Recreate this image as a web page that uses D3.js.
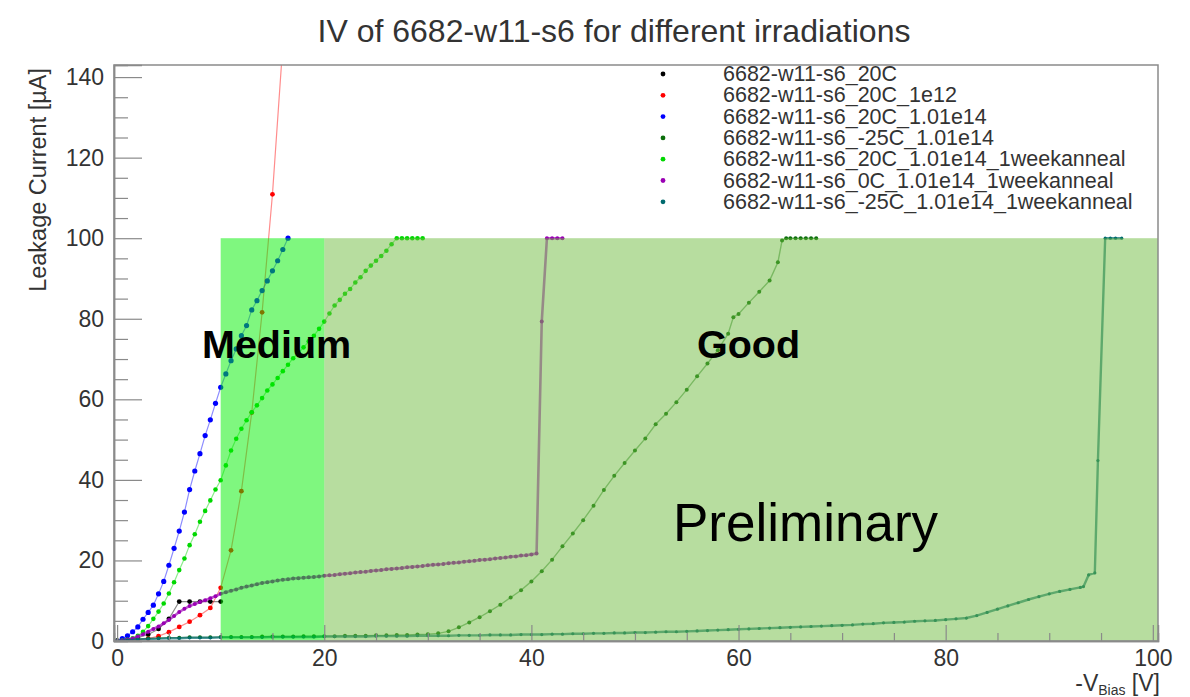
<!DOCTYPE html>
<html>
<head>
<meta charset="utf-8">
<script src="https://cdn.jsdelivr.net/npm/d3@7"></script>
<style>
  body { margin: 0; background: #fff; }
  text { font-family: "Liberation Sans", Arial, Helvetica, sans-serif; }
</style>
</head>
<body>
<svg id="chart" width="1190" height="697"></svg>
<script>
// ---- measurement series: bias voltage [V] and leakage current [uA] ----
const seriesNames = [
  "6682-w11-s6_20C",
  "6682-w11-s6_20C_1e12",
  "6682-w11-s6_20C_1.01e14",
  "6682-w11-s6_-25C_1.01e14",
  "6682-w11-s6_20C_1.01e14_1weekanneal",
  "6682-w11-s6_0C_1.01e14_1weekanneal",
  "6682-w11-s6_-25C_1.01e14_1weekanneal"
];

const v20C = [0,1,2,3,4,5,6,7,8,9,10];
const i20C = [0,0.3,0.8,1.6,3.0,5.5,9.8,9.8,9.8,9.8,9.8];

const v20C_1e12 = [0,1,2,3,4,5,6,7,8,9,10,11,12,13,14,15,16];
const i20C_1e12 = [0,0.1,0.3,0.6,1.2,2.2,3.5,4.8,6.4,8.2,13.2,22.5,37.2,56.7,81.6,110.9,148];

const v20C_101e14 = [0,0.5,1,1.5,2,2.5,3,3.5,4,4.5,5,5.5,6,6.5,7,7.5,8,8.5,9,9.5,10,10.5,11,11.5,12,12.5,13,13.5,14,14.5,15,15.5,16,16.5];
const i20C_101e14 = [0,0.6,1.3,2.3,3.5,5.4,7.1,8.9,11.7,14.8,18.8,23.0,27.3,32.0,37.6,42.2,46.5,51.0,54.9,59.0,63.0,66.3,69.6,72.5,75.8,78.3,82.2,84.5,87.0,89.4,91.9,94.4,97.2,100];

const vM25C_101e14 = [0,1,2,3,4,5,6,7,8,9,10,11,12,13,14,15,16,17,18,19,20,21,22,23,24,25,26,27,28,29,30,31,32,33,34,35,36,37,38,39,40,41,42,43,44,45,46,47,48,49,50,51,52,53,54,55,56,57,58,59,59.5,60,61,62,63,63.8,64.2,64.6,65,65.5,66,66.5,67,67.5];
const iM25C_101e14 = [0.2,0.4,0.5,0.6,0.7,0.8,0.8,0.9,0.9,0.9,1.0,1.0,1.0,1.0,1.1,1.1,1.1,1.1,1.2,1.2,1.2,1.2,1.3,1.3,1.3,1.4,1.4,1.5,1.5,1.6,1.7,1.9,2.4,3.4,4.6,5.9,7.4,9.0,10.8,12.6,14.8,17.3,20.2,23.5,26.7,30.0,33.6,37.5,41.0,44.2,47.3,50.3,53.8,56.4,59.3,62.4,65.7,68.9,72.2,76.3,80.4,81.2,84.0,86.7,89.5,94.0,99.4,100,100,100,100,100,100,100];

const v20C_anneal = [0,0.5,1,1.5,2,2.5,3,3.5,4,4.5,5,5.5,6,6.5,7,7.5,8,8.5,9,9.5,10,10.5,11,11.5,12,12.5,13,13.5,14,14.5,15,15.5,16,16.5,17,17.5,18,18.5,19,19.5,20,20.5,21,21.5,22,22.5,23,23.5,24,24.5,25,25.5,26,26.5,27,27.5,28,28.5,29,29.5];
const i20C_anneal = [0,0.1,0.3,0.7,1.3,2.3,3.7,5.5,7.3,9.3,11.8,14.6,17.6,20.5,23.8,26.5,29.6,32.3,34.9,37.6,39.9,43.6,47.3,50.2,52.7,54.8,56.8,58.5,60.3,62.2,63.7,65.3,67.0,68.6,70.2,71.5,72.9,74.4,75.8,77.5,79.3,81.3,83.3,84.7,86.2,87.4,89.0,90.3,91.9,93.2,94.4,95.6,96.9,98.5,100,100,100,100,100,100];

const v0C_anneal = [0,0.5,1,1.5,2,2.5,3,3.5,4,4.5,5,5.5,6,6.5,7,7.5,8,8.5,9,9.5,10,10.5,11,11.5,12,12.5,13,13.5,14,14.5,15,15.5,16,16.5,17,17.5,18,18.5,19,19.5,20,20.5,21,21.5,22,22.5,23,23.5,24,24.5,25,25.5,26,26.5,27,27.5,28,28.5,29,29.5,30,30.5,31,31.5,32,32.5,33,33.5,34,34.5,35,35.5,36,36.5,37,37.5,38,38.5,39,39.5,40,40.5,41,41.5,42,42.5,43];
const i0C_anneal = [0,0.1,0.3,0.6,1.1,1.7,2.3,3.0,3.6,4.4,5.2,6.2,7.2,8.0,8.7,9.2,9.7,10.1,10.6,11.1,11.7,12.1,12.5,12.8,13.2,13.5,13.8,14.1,14.4,14.6,14.8,15.0,15.2,15.3,15.5,15.6,15.7,15.8,15.9,16.0,16.2,16.3,16.4,16.6,16.7,16.8,17.0,17.1,17.2,17.4,17.5,17.6,17.8,17.9,18.0,18.1,18.3,18.4,18.5,18.6,18.8,18.9,19.0,19.1,19.3,19.4,19.5,19.7,19.8,19.9,20.1,20.2,20.3,20.5,20.6,20.7,20.9,21.0,21.2,21.3,21.5,21.7,79.3,100,100,100,100];

const vM25C_anneal = [0,1,2,3,4,5,6,7,8,9,10,11,12,13,14,15,16,17,18,19,20,21,22,23,24,25,26,27,28,29,30,31,32,33,34,35,36,37,38,39,40,41,42,43,44,45,46,47,48,49,50,51,52,53,54,55,56,57,58,59,60,61,62,63,64,65,66,67,68,69,70,71,72,73,74,75,76,77,78,79,80,81,82,83,84,85,86,87,88,89,90,91,92,93,93.3,93.8,94.4,94.7,95.4,95.9,96.4,97];
const iM25C_anneal = [0,0.2,0.4,0.5,0.6,0.7,0.7,0.8,0.8,0.8,0.9,0.9,0.9,0.9,0.9,1.0,1.0,1.0,1.0,1.0,1.1,1.1,1.1,1.1,1.1,1.2,1.2,1.2,1.2,1.3,1.3,1.3,1.3,1.4,1.4,1.4,1.5,1.5,1.5,1.6,1.6,1.6,1.7,1.7,1.8,1.8,1.9,1.9,2.0,2.0,2.1,2.1,2.2,2.3,2.3,2.4,2.5,2.6,2.7,2.8,2.9,3.0,3.1,3.2,3.3,3.4,3.5,3.6,3.7,3.8,3.9,4.0,4.2,4.3,4.5,4.6,4.7,4.9,5.0,5.1,5.3,5.5,5.7,6.3,7.1,7.9,8.7,9.5,10.3,11.0,11.7,12.3,12.8,13.3,13.5,16.4,16.9,44.8,100,100,100,100];

// quality bands (voltage ranges) and their current ceiling
const mediumBand = [10, 20];
const goodBand = [20, 100.5];
const bandCeiling = 100;

// axis ticks
const xMajorTicks = [0, 20, 40, 60, 80, 100];
const yMajorTicks = [0, 20, 40, 60, 80, 100, 120, 140];

// ---- drawing ----
const frame = { left: 114, right: 1158, top: 65, bottom: 641 };

const svg = d3.select("#chart");
const x = d3.scaleLinear().domain([-0.3, 100.5]).range([frame.left, frame.right]);
const y = d3.scaleLinear().domain([0, 143]).range([frame.bottom, frame.top]);

const colors = ["#000000", "#ff0000", "#0000ff", "#0b6e0b", "#00d800", "#9a00b4", "#006a6e"];
const radius = [2.4, 2.4, 2.6, 2.0, 2.3, 2.0, 1.6];
const lineWidth = [1.2, 1.2, 1.2, 1.4, 1.2, 2.6, 2.4];
const lineOpacity = [0.45, 0.45, 0.45, 0.5, 0.45, 0.65, 0.7];

const series = [
  [v20C, i20C], [v20C_1e12, i20C_1e12], [v20C_101e14, i20C_101e14],
  [vM25C_101e14, iM25C_101e14], [v20C_anneal, i20C_anneal],
  [v0C_anneal, i0C_anneal], [vM25C_anneal, iM25C_anneal]
].map(([vs, is], k) => ({
  name: seriesNames[k],
  color: colors[k],
  r: radius[k],
  lw: lineWidth[k],
  lo: lineOpacity[k],
  points: vs.map((v, j) => ({ v, i: is[j] }))
}));

svg.append("defs").append("clipPath").attr("id", "plotClip")
  .append("rect")
  .attr("x", frame.left).attr("y", frame.top)
  .attr("width", frame.right - frame.left).attr("height", frame.bottom - frame.top);

// title
svg.append("text")
  .attr("x", 614).attr("y", 42)
  .attr("text-anchor", "middle")
  .attr("font-size", 32)
  .attr("fill", "#333")
  .text("IV of 6682-w11-s6 for different irradiations");

// curves
const plot = svg.append("g").attr("clip-path", "url(#plotClip)");
const line = d3.line().x(d => x(d.v)).y(d => y(d.i));

series.forEach(s => {
  const g = plot.append("g");
  g.append("path")
    .attr("d", line(s.points))
    .attr("fill", "none")
    .attr("stroke", s.color)
    .attr("stroke-opacity", s.lo)
    .attr("stroke-width", s.lw);
  g.selectAll("circle").data(s.points).join("circle")
    .attr("cx", d => x(d.v))
    .attr("cy", d => y(d.i))
    .attr("r", s.r)
    .attr("fill", s.color);
});

// translucent quality bands drawn over the curves
plot.append("rect")
  .attr("x", x(goodBand[0])).attr("y", y(bandCeiling))
  .attr("width", x(goodBand[1]) - x(goodBand[0]))
  .attr("height", y(0) - y(bandCeiling))
  .attr("fill", "rgb(112,188,64)").attr("fill-opacity", 0.5);
plot.append("rect")
  .attr("x", x(mediumBand[0])).attr("y", y(bandCeiling))
  .attr("width", x(mediumBand[1]) - x(mediumBand[0]))
  .attr("height", y(0) - y(bandCeiling))
  .attr("fill", "rgb(0,240,0)").attr("fill-opacity", 0.5);

// band labels
svg.append("text").attr("x", 202).attr("y", 358)
  .attr("font-size", 39.5).attr("font-weight", "bold").attr("fill", "#000")
  .text("Medium");
svg.append("text").attr("x", 697).attr("y", 358)
  .attr("font-size", 39.5).attr("font-weight", "bold").attr("fill", "#000")
  .text("Good");
svg.append("text").attr("x", 673).attr("y", 541)
  .attr("font-size", 53).attr("fill", "#000")
  .text("Preliminary");

// frame
svg.append("rect")
  .attr("x", frame.left).attr("y", frame.top)
  .attr("width", frame.right - frame.left).attr("height", frame.bottom - frame.top)
  .attr("fill", "none").attr("stroke", "#8a8a8a").attr("stroke-width", 1.5);

// axes: ticks point into the frame
const xMinor = d3.range(0, 101, 5).filter(v => v % 20 !== 0);
const yMinor = d3.range(0, 143, 5).filter(v => v % 20 !== 0);

svg.append("g").attr("transform", `translate(0,${frame.bottom})`)
  .call(d3.axisBottom(x).tickValues(xMajorTicks).tickSize(-16).tickPadding(9).tickFormat(d3.format("d")));
svg.append("g").attr("transform", `translate(0,${frame.bottom})`)
  .call(d3.axisBottom(x).tickValues(xMinor).tickSize(-8).tickFormat(""));

svg.append("g").attr("transform", `translate(${frame.left},0)`)
  .call(d3.axisLeft(y).tickValues(yMajorTicks).tickSize(-28).tickPadding(10).tickFormat(d3.format("d")));
svg.append("g").attr("transform", `translate(${frame.left},0)`)
  .call(d3.axisLeft(y).tickValues(yMinor).tickSize(-14).tickFormat(""));

svg.selectAll(".domain").attr("stroke", "#8a8a8a").attr("stroke-width", 1.5);
svg.selectAll(".tick line").attr("stroke", "#8a8a8a").attr("stroke-width", 1.2);
svg.selectAll(".tick text")
  .attr("font-size", 23).attr("fill", "#333")
  .attr("font-family", '"Liberation Sans", Arial, sans-serif');

// axis titles
svg.append("text")
  .attr("transform", `translate(46,68) rotate(-90)`)
  .attr("text-anchor", "end")
  .attr("font-size", 23.5).attr("fill", "#333")
  .text("Leakage Current [\u00b5A]");

const xt = svg.append("text")
  .attr("x", 1160).attr("y", 691)
  .attr("text-anchor", "end")
  .attr("font-size", 23).attr("fill", "#333");
xt.append("tspan").text("-V");
xt.append("tspan").attr("font-size", 14).attr("dy", 4).text("Bias");
xt.append("tspan").attr("dy", -4).text(" [V]");

// legend
const legend = svg.append("g");
series.forEach((s, k) => {
  const ly = 74 + k * 21.3;
  legend.append("circle").attr("cx", 663).attr("cy", ly).attr("r", 2.4).attr("fill", s.color);
  legend.append("text").attr("x", 723).attr("y", ly + 7)
    .attr("font-size", 21.5).attr("fill", "#333")
    .text(s.name);
});
</script>
</body>
</html>
